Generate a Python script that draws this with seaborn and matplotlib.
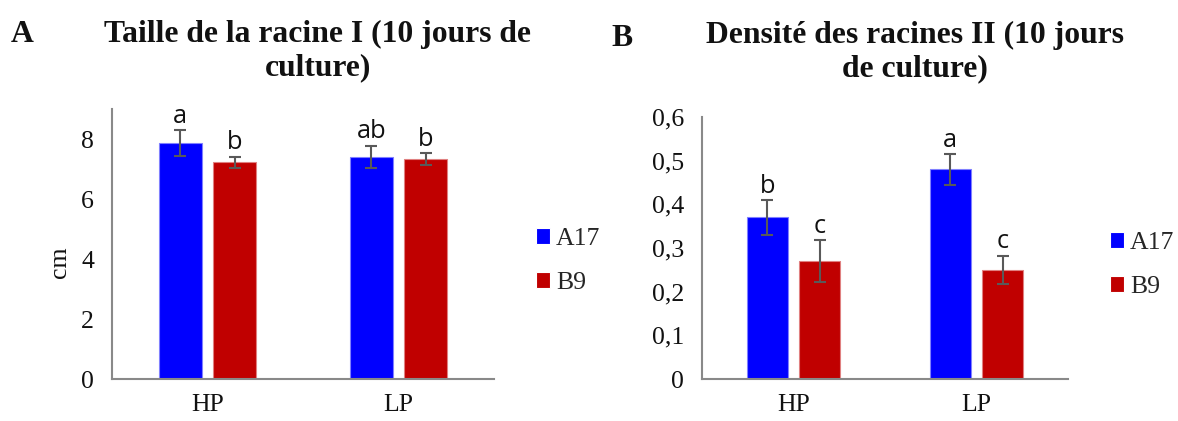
import numpy as np
import pandas as pd
import matplotlib
matplotlib.use("Agg")
import matplotlib.pyplot as plt
from matplotlib.ticker import FuncFormatter, FixedLocator
import seaborn as sns

# ---------------- data ----------------
conditions = ["HP", "LP"]
genotypes = ["A17", "B9"]
taille_A17 = [7.86, 7.40]
taille_B9 = [7.22, 7.34]
taille_err_A17 = [0.43, 0.38]
taille_err_B9 = [0.19, 0.19]
densite_A17 = [0.37, 0.48]
densite_B9 = [0.27, 0.25]
densite_err_A17 = [0.040, 0.035]
densite_err_B9 = [0.048, 0.032]
letters_taille_A17 = ["a", "ab"]
letters_taille_B9 = ["b", "b"]
letters_densite_A17 = ["b", "a"]
letters_densite_B9 = ["c", "c"]
title_A = "Taille de la racine I (10 jours de\nculture)"
title_B = "Densité des racines II (10 jours\nde culture)"
ylabel_A = "cm"
yticks_A = [0, 2, 4, 6, 8]
yticks_B = [0, 0.1, 0.2, 0.3, 0.4, 0.5, 0.6]

palette = {"A17": "#0000FF", "B9": "#C00000"}
edge = {"A17": "#8080FF", "B9": "#E08080"}

sns.set_style("white")
plt.rcParams["font.family"] = ["Liberation Serif", "DejaVu Serif"]

fig = plt.figure(figsize=(11.78, 4.21), dpi=100)
W, H = 1178, 421

TICK = 18.5
LEG = 18.5
TITLE = 22.8


def make_df(a, b, ea, eb, la, lb):
    rows = []
    for g, vals, errs, lets in (("A17", a, ea, la), ("B9", b, eb, lb)):
        for c, v, e, l in zip(conditions, vals, errs, lets):
            rows.append({"condition": c, "genotype": g, "value": v, "err": e, "letter": l})
    return pd.DataFrame(rows)


def panel(ax, df, ylim, yticks, fmt, legend_xy):
    sns.barplot(data=df, x="condition", y="value", hue="genotype",
                order=conditions, hue_order=genotypes, palette=palette,
                width=0.57, gap=0.21, errorbar=None, saturation=1,
                linewidth=0.8, ax=ax)
    for cont, g in zip(ax.containers, genotypes):
        sub = df[df.genotype == g].set_index("condition").loc[conditions]
        for bar, (_, r) in zip(cont, sub.iterrows()):
            bar.set_edgecolor(edge[g])
            x = bar.get_x() + bar.get_width() / 2
            y = bar.get_height()
            ax.errorbar(x, y, yerr=r["err"], color="#595959", capsize=4.5,
                        capthick=1.5, elinewidth=1.5, fmt="none", zorder=5)
            ax.annotate(r["letter"], (x, y + r["err"]), xytext=(0, 1),
                        textcoords="offset points", ha="center", va="bottom",
                        fontsize=18.3, family=["Open Sans", "DejaVu Sans"],
                        color="#111111")
    ax.set_ylim(*ylim)
    ax.set_xlim(-0.5, 1.5)
    ax.yaxis.set_major_locator(FixedLocator(yticks))
    ax.yaxis.set_major_formatter(FuncFormatter(fmt))
    ax.set_xlabel("")
    ax.set_ylabel("")
    for s in ("top", "right"):
        ax.spines[s].set_visible(False)
    for s in ("left", "bottom"):
        ax.spines[s].set_color("#898989")
        ax.spines[s].set_linewidth(1.5)
    ax.tick_params(axis="both", length=0, labelsize=TICK, colors="#111111")
    ax.tick_params(axis="y", pad=13)
    ax.tick_params(axis="x", pad=11)
    h, l = ax.get_legend_handles_labels()
    if ax.get_legend() is not None:
        ax.get_legend().remove()
    fig.legend(h, l, loc="center left", bbox_to_anchor=legend_xy,
               frameon=False, fontsize=LEG, handlelength=0.55, handleheight=0.55,
               handletextpad=0.23, labelspacing=0.86, borderaxespad=0,
               borderpad=0)


def fmt_A(v, pos):
    return f"{int(round(v))}"


def fmt_B(v, pos):
    if abs(v) < 1e-9:
        return "0"
    return f"{v:.1f}".replace(".", ",")


# Panel A
axA = fig.add_axes([112 / W, 1 - 379 / H, (494 - 112) / W, (379 - 109) / H])
dfA = make_df(taille_A17, taille_B9, taille_err_A17, taille_err_B9,
              letters_taille_A17, letters_taille_B9)
panel(axA, dfA, (0, 9), yticks_A, fmt_A, (536 / W, 1 - 261 / H))

# Panel B
axB = fig.add_axes([702 / W, 1 - 379 / H, (1068 - 702) / W, (379 - 117) / H])
dfB = make_df(densite_A17, densite_B9, densite_err_A17, densite_err_B9,
              letters_densite_A17, letters_densite_B9)
panel(axB, dfB, (0, 0.6), yticks_B, fmt_B, (1110 / W, 1 - 265 / H))

fig.text(60 / W, 1 - 262 / H, ylabel_A, rotation=90, ha="center", va="center",
         fontsize=TICK, color="#111111")

fig.text(318 / W, 1 - 51 / H, title_A, ha="center", va="center",
         fontsize=TITLE, fontweight="bold", linespacing=1.2, color="#111111")
fig.text(915 / W, 1 - 52 / H, title_B, ha="center", va="center",
         fontsize=TITLE, fontweight="bold", linespacing=1.2, color="#111111")
fig.text(22 / W, 1 - 35 / H, "A", ha="center", va="center",
         fontsize=TITLE, fontweight="bold", color="#111111")
fig.text(622 / W, 1 - 38 / H, "B", ha="center", va="center",
         fontsize=TITLE, fontweight="bold", color="#111111")

fig.savefig("out.png", dpi=100)
